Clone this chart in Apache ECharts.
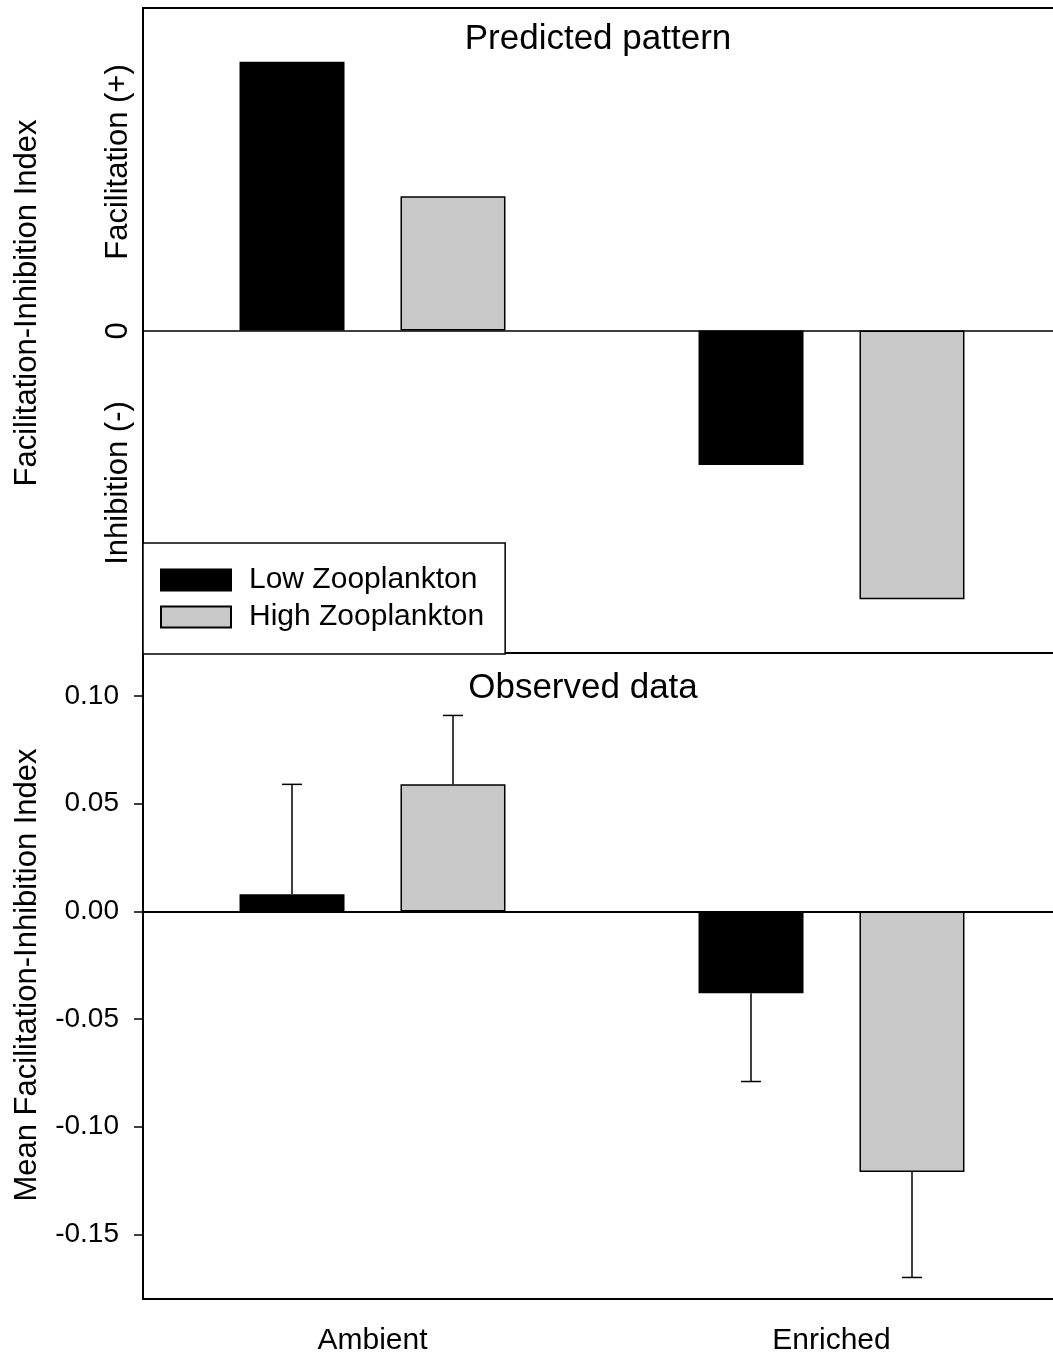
<!DOCTYPE html>
<html>
<head>
<meta charset="utf-8">
<script src="https://cdn.jsdelivr.net/npm/echarts@6/dist/echarts.min.js"></script>
<style>
html, body { margin: 0; padding: 0; background: #fff; overflow: hidden; }
/* plot area runs a little past the right edge of the picture */
#chart { width: 1061px; height: 1358px; }
</style>
</head>
<body>
<div id="chart"></div>
<script>
// data
var categories = ['Ambient', 'Enriched'];
var seriesNames = ['Low Zooplankton', 'High Zooplankton'];
// predicted pattern (arbitrary units)
var predLow = [2, -1];
var predHigh = [1, -2];
// observed means and one-sided error bars
var obsLow = [0.008, -0.038];
var obsLowErr = [0.051, 0.041];
var obsHigh = [0.059, -0.121];
var obsHighErr = [0.032, 0.049];
var obsTicks = [-0.15, -0.10, -0.05, 0.00, 0.05, 0.10];

var FONT = 'Liberation Sans, Arial, sans-serif';
var BAR_W = 105;
var BAR_GAP = 56;

function errData(means, errs){
	var out = [];
	for(var i=0; i<means.length; i++){
		var sign = means[i] >= 0 ? 1 : -1;
		out.push([i, means[i], means[i] + sign*errs[i]]);
	}
	return out;
}

function errSeries(name, data, offsetSign){
	return {
		name: name,
		type: 'custom',
		xAxisIndex: 1,
		yAxisIndex: 1,
		data: data,
		z: 1,
		silent: true,
		renderItem: function(params, api){
			var p0 = api.coord([api.value(0), api.value(1)]);
			var p1 = api.coord([api.value(0), api.value(2)]);
			var x = p0[0] + offsetSign*(BAR_W + BAR_GAP)/2;
			var style = { stroke: '#000', lineWidth: 1.5 };
			return {
				type: 'group',
				children: [
					{ type: 'line', shape: { x1: x, y1: p0[1], x2: x, y2: p1[1] }, style: style },
					{ type: 'line', shape: { x1: x-10, y1: p1[1], x2: x+10, y2: p1[1] }, style: style }
				]
			};
		}
	};
}

var zeroLine = {
	silent: true,
	symbol: 'none',
	label: { show: false },
	lineStyle: { color: '#000', width: 1.5, type: 'solid' },
	data: [{ yAxis: 0 }]
};

function barSeries(name, data, gridIdx, color, withZero){
	var s = {
		name: name,
		type: 'bar',
		xAxisIndex: gridIdx,
		yAxisIndex: gridIdx,
		data: data,
		barWidth: BAR_W,
		barGap: (BAR_GAP/BAR_W*100).toFixed(1) + '%',
		itemStyle: { color: color, borderColor: '#000', borderWidth: 1.5 },
		z: 2
	};
	if(withZero){ s.markLine = zeroLine; }
	return s;
}

var chart = echarts.init(document.getElementById('chart'));
var option = {
	backgroundColor: '#fff',
	animation: false,
	textStyle: { fontFamily: FONT },
	grid: [
		{ left: 143, top: 8, right: 0, height: 645, show: true, borderColor: '#000', borderWidth: 2, backgroundColor: 'transparent' },
		{ left: 143, top: 653, right: 0, height: 646, show: true, borderColor: '#000', borderWidth: 2, backgroundColor: 'transparent' }
	],
	legend: {
		data: seriesNames,
		orient: 'vertical',
		left: 143,
		top: 543,
		padding: [22, 21, 22, 17],
		itemWidth: 70,
		itemHeight: 21,
		itemGap: 7,
		backgroundColor: '#fff',
		borderColor: '#000',
		borderWidth: 1.5,
		borderRadius: 0,
		selectedMode: false,
		icon: 'rect',
		textStyle: { fontFamily: FONT, fontSize: 30, color: '#000', lineHeight: 30, padding: [0, 0, 0, 13] }
	},
	xAxis: [
		{
			type: 'category', gridIndex: 0, data: categories, show: false
		},
		{
			type: 'category', gridIndex: 1, data: categories,
			axisLine: { lineStyle: { color: '#000', width: 2 } },
			axisTick: { alignWithLabel: true, length: 9, lineStyle: { color: '#000', width: 1.5 } },
			axisLabel: { color: '#000', fontSize: 30, fontFamily: FONT, margin: 27 }
		}
	],
	yAxis: [
		{
			type: 'value', gridIndex: 0, min: -2.4, max: 2.4,
			axisLine: { show: true, lineStyle: { color: '#000', width: 2 } },
			axisTick: { show: false },
			axisLabel: { show: false },
			splitLine: { show: false }
		},
		{
			type: 'value', gridIndex: 1, min: -0.18, max: 0.12,
			axisLine: { show: true, lineStyle: { color: '#000', width: 2 } },
			axisTick: { show: true, length: 9, customValues: obsTicks, lineStyle: { color: '#000', width: 1.5 } },
			axisLabel: {
				customValues: obsTicks, color: '#000', fontSize: 28, fontFamily: FONT, margin: 24,
				formatter: function(v){ return v.toFixed(2); }
			},
			splitLine: { show: false }
		}
	],
	series: [
		barSeries(seriesNames[0], predLow, 0, '#000', true),
		barSeries(seriesNames[1], predHigh, 0, '#c8c8c8', false),
		barSeries(seriesNames[0], obsLow, 1, '#000', true),
		barSeries(seriesNames[1], obsHigh, 1, '#c8c8c8', false),
		errSeries('errLow', errData(obsLow, obsLowErr), -1),
		errSeries('errHigh', errData(obsHigh, obsHighErr), 1)
	],
	graphic: [
		{ type: 'text', x: 598, y: 39, style: { text: 'Predicted pattern', font: '35px ' + FONT, fill: '#000', textAlign: 'center', textVerticalAlign: 'middle' } },
		{ type: 'text', x: 583, y: 688, style: { text: 'Observed data', font: '35px ' + FONT, fill: '#000', textAlign: 'center', textVerticalAlign: 'middle' } },
		{ type: 'text', x: 27, y: 303, rotation: Math.PI/2, style: { text: 'Facilitation-Inhibition Index', font: '31px ' + FONT, fill: '#000', textAlign: 'center', textVerticalAlign: 'middle' } },
		{ type: 'text', x: 27, y: 975, rotation: Math.PI/2, style: { text: 'Mean Facilitation-Inhibition Index', font: '31px ' + FONT, fill: '#000', textAlign: 'center', textVerticalAlign: 'middle' } },
		{ type: 'text', x: 118, y: 162, rotation: Math.PI/2, style: { text: 'Facilitation (+)', font: '31px ' + FONT, fill: '#000', textAlign: 'center', textVerticalAlign: 'middle' } },
		{ type: 'text', x: 118, y: 331, rotation: Math.PI/2, style: { text: '0', font: '31px ' + FONT, fill: '#000', textAlign: 'center', textVerticalAlign: 'middle' } },
		{ type: 'text', x: 118, y: 483, rotation: Math.PI/2, style: { text: 'Inhibition (-)', font: '31px ' + FONT, fill: '#000', textAlign: 'center', textVerticalAlign: 'middle' } }
	]
};
chart.setOption(option);
</script>
</body>
</html>
